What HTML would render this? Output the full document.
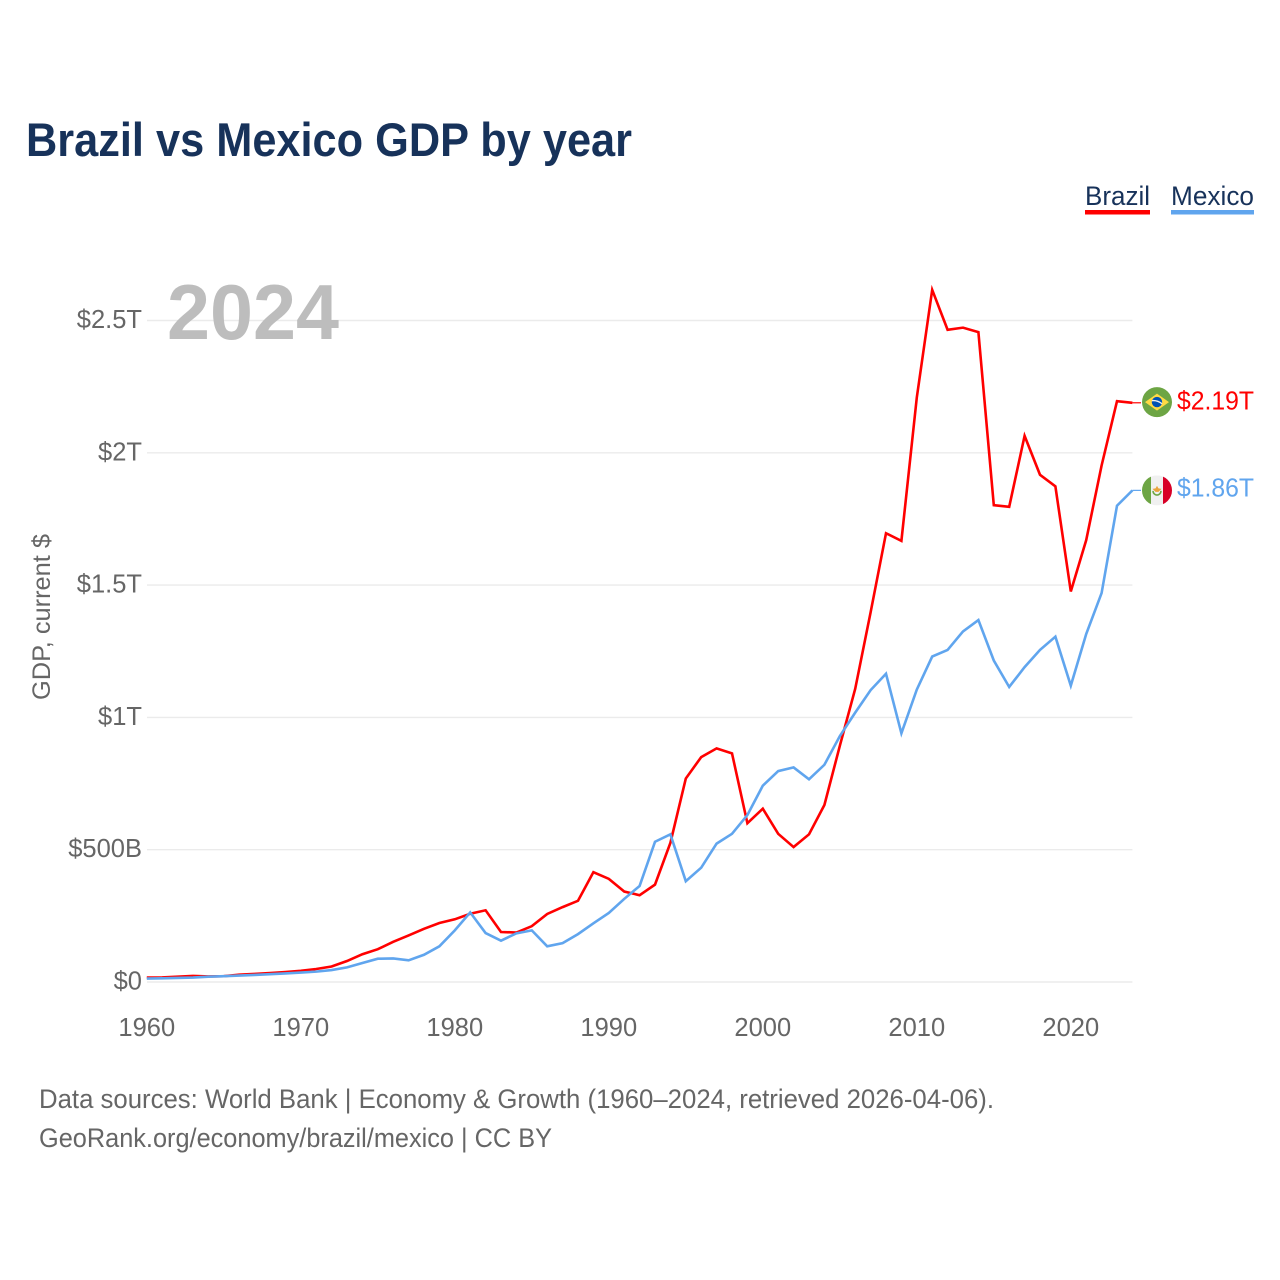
<!DOCTYPE html>
<html lang="en">
<head>
<meta charset="utf-8">
<title>Brazil vs Mexico GDP by year</title>
<style>
html,body{margin:0;padding:0;background:#fff;width:1280px;height:1280px;overflow:hidden}
svg{display:block;font-family:"Liberation Sans",sans-serif}
</style>
</head>
<body>
<svg id="chart" xmlns="http://www.w3.org/2000/svg" width="1280" height="1280" viewBox="0 0 1280 1280">
  <rect x="0" y="0" width="1280" height="1280" fill="#ffffff"/>
  <text x="26" y="156" font-size="47" font-weight="700" fill="#17325a" textLength="606" lengthAdjust="spacingAndGlyphs">Brazil vs Mexico GDP by year</text>

  <g id="grid"></g>
  <g id="yticks"></g>
  <g id="xticks"></g>

  <text x="167" y="339" font-size="78" font-weight="700" fill="#bdbdbd" textLength="172" lengthAdjust="spacingAndGlyphs">2024</text>

  <text transform="translate(50,700) rotate(-90)" x="0" y="0" font-size="25" fill="#666666" textLength="166" lengthAdjust="spacingAndGlyphs">GDP, current $</text>

  <g id="series"></g>

  <g>
    <g>
      <text x="1085" y="205" font-size="27" fill="#17325a" textLength="65" lengthAdjust="spacingAndGlyphs">Brazil</text>
      <rect x="1085" y="210" width="65" height="4.5" fill="#ff0000"/>
    </g>
    <g>
      <text x="1171" y="205" font-size="27" fill="#17325a" textLength="83" lengthAdjust="spacingAndGlyphs">Mexico</text>
      <rect x="1171" y="210" width="83" height="4.5" fill="#60a5ee"/>
    </g>
  </g>

  <defs>
    <clipPath id="mx-clip"><circle cx="0" cy="0" r="15"/></clipPath>
  </defs>
  <g id="flag-brazil">
    <circle cx="0" cy="0" r="15" fill="#6da544"/>
    <polygon points="-12,0 0,-8.5 12,0 0,8.5" fill="#ffda44"/>
    <circle cx="0" cy="0" r="5.2" fill="#0052b4"/>
    <path d="M-5,-1.4 Q0,-2 5,1.6" stroke="#f0f0f0" stroke-width="1.4" fill="none"/>
  </g>
  <g id="flag-mexico">
    <g clip-path="url(#mx-clip)">
      <rect x="-15" y="-15" width="30" height="30" fill="#f0f0f0"/>
      <rect x="-15" y="-15" width="9" height="30" fill="#6da544"/>
      <rect x="6" y="-15" width="9" height="30" fill="#d80027"/>
    </g>
    <path d="M-4,0.5 A4,4.2 0 0 0 4,0.5" stroke="#6da544" stroke-width="1.6" fill="none"/>
    <polygon points="-4.5,-1.5 -1.5,-2 0,-4.5 1.5,-2 4.5,-1.5 1.5,1.5 -1.5,1.5" fill="#e8a33c"/>
  </g>
  <text id="value-brazil" x="1177" font-size="26" fill="#ff0000" textLength="77" lengthAdjust="spacingAndGlyphs"></text>
  <text id="value-mexico" x="1177" font-size="26" fill="#60a5ee" textLength="77" lengthAdjust="spacingAndGlyphs"></text>

  <text x="39" y="1108" font-size="26.5" fill="#666666" textLength="955" lengthAdjust="spacingAndGlyphs">Data sources: World Bank | Economy &amp; Growth (1960–2024, retrieved 2026-04-06).</text>
  <text x="39" y="1147" font-size="26.5" fill="#666666" textLength="513" lengthAdjust="spacingAndGlyphs">GeoRank.org/economy/brazil/mexico | CC BY</text>
</svg>
<script>
// Chart data (GDP in billions of current US$)
const years = [1960,1961,1962,1963,1964,1965,1966,1967,1968,1969,1970,1971,1972,1973,1974,1975,1976,1977,1978,1979,1980,1981,1982,1983,1984,1985,1986,1987,1988,1989,1990,1991,1992,1993,1994,1995,1996,1997,1998,1999,2000,2001,2002,2003,2004,2005,2006,2007,2008,2009,2010,2011,2012,2013,2014,2015,2016,2017,2018,2019,2020,2021,2022,2023,2024];
const brazilValues = [17,17.5,19.9,23,21,21.8,27.6,30.6,33.9,37.5,42.3,49.2,58.5,79.3,105,124,152,176,201,223,237,258,271,189,187,211,257,283,307,415,390,342,328,368,526,769,850,883,864,600,655,560,510,558,669,892,1108,1397,1696,1667,2209,2616,2465,2473,2456,1802,1796,2064,1917,1873,1476,1670,1952,2195,2189];
const mexicoValues = [13,14,15.2,16.9,20.1,21.8,24.3,26.6,29.4,32.5,35.5,39.2,45.2,55.3,72,88,89,82,103,135,195,263,185,156,184,195,135,147,181,222,261,314,363,530,558,381,432,523,560,631,742,797,811,766,821,929,1018,1103,1165,940,1105,1230,1255,1325,1368,1215,1115,1190,1255,1305,1120,1315,1470,1800,1858];
const yTickValues = [0,500,1000,1500,2000,2500];
const yTickLabels = ['$0','$500B','$1T','$1.5T','$2T','$2.5T'];
const xTickValues = [1960,1970,1980,1990,2000,2010,2020];
const xTickLabels = ['1960','1970','1980','1990','2000','2010','2020'];

const NS = 'http://www.w3.org/2000/svg';
const xScale = v => 146.8 + (v - 1960) * 15.4;
const yScale = v => 982 - v * 0.2646;

const gridG = document.getElementById('grid');
const yG = document.getElementById('yticks');
const xG = document.getElementById('xticks');
const seriesG = document.getElementById('series');

yTickValues.forEach((v, i) => {
  const line = document.createElementNS(NS, 'line');
  
  
  line.setAttribute('x1', 147);
  line.setAttribute('x2', xScale(2024));
  line.setAttribute('y1', yScale(v));
  line.setAttribute('y2', yScale(v));
  line.setAttribute('stroke', '#ebebeb');
  line.setAttribute('stroke-width', v === 0 ? 1.6 : 1.4);
  gridG.appendChild(line);

  const t = document.createElementNS(NS, 'text');
  
  
  t.setAttribute('x', 142);
  t.setAttribute('y', yScale(v) + 7.5);
  t.setAttribute('text-anchor', 'end');
  t.setAttribute('font-size', '25.5');
  t.setAttribute('fill', '#666666');
  t.textContent = yTickLabels[i];
  yG.appendChild(t);
});

xTickValues.forEach((v, i) => {
  const t = document.createElementNS(NS, 'text');
  
  
  t.setAttribute('x', xScale(v));
  t.setAttribute('y', 1036);
  t.setAttribute('text-anchor', 'middle');
  t.setAttribute('font-size', '25.5');
  t.setAttribute('fill', '#666666');
  t.textContent = xTickLabels[i];
  xG.appendChild(t);
});

function drawSeries(values, color, name) {
  const pts = values.map((v, i) => xScale(years[i]).toFixed(2) + ',' + yScale(v).toFixed(2)).join(' ');
  const line = document.createElementNS(NS, 'polyline');
  
  
  line.setAttribute('points', pts);
  line.setAttribute('fill', 'none');
  line.setAttribute('stroke', color);
  line.setAttribute('stroke-width', '2.6');
  line.setAttribute('stroke-linejoin', 'miter');
  seriesG.appendChild(line);

  const lastY = yScale(values[values.length - 1]);
  const conn = document.createElementNS(NS, 'line');
  
  
  conn.setAttribute('x1', xScale(2024));
  conn.setAttribute('x2', 1141);
  conn.setAttribute('y1', lastY);
  conn.setAttribute('y2', lastY);
  conn.setAttribute('stroke', color);
  conn.setAttribute('stroke-width', '1.2');
  seriesG.appendChild(conn);
  return lastY;
}

function fmt(v) {
  return '$' + (v / 1000).toFixed(2) + 'T';
}

const brY = drawSeries(brazilValues, '#ff0000', 'brazil');
const mxY = drawSeries(mexicoValues, '#60a5ee', 'mexico');

document.getElementById('flag-brazil').setAttribute('transform', 'translate(1157,' + (brY - 0.7) + ')');
document.getElementById('flag-mexico').setAttribute('transform', 'translate(1157,' + mxY + ')');

const vb = document.getElementById('value-brazil');
vb.setAttribute('y', brY + 6.5);
vb.textContent = fmt(brazilValues[brazilValues.length - 1]);
const vm = document.getElementById('value-mexico');
vm.setAttribute('y', mxY + 6);
vm.textContent = fmt(mexicoValues[mexicoValues.length - 1]);
</script>
</body>
</html>
